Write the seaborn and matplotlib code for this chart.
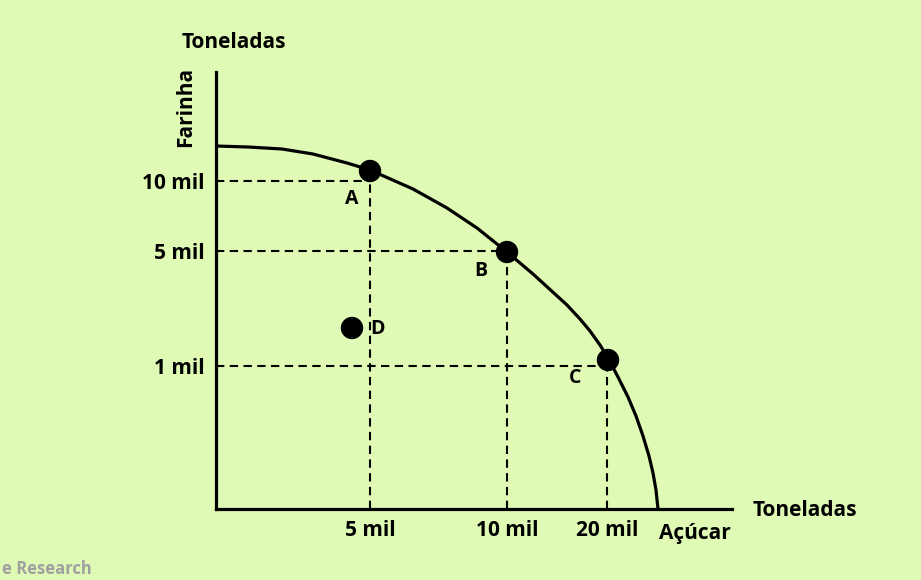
import pandas as pd
import matplotlib.pyplot as plt
import seaborn as sns

# Schematic positions (chart units)
curve_x = [0.0, 3.2, 6.6, 9.7, 13.1, 15.4, 19.7, 23.1, 26.1, 29.1, 31.7,
           35.1, 36.4, 37.4, 38.4, 39.2, 40.2, 41.2, 42.0, 42.7, 43.3, 43.7, 44.0, 44.2]
curve_y = [36.3, 36.2, 36.0, 35.5, 34.6, 33.9, 32.0, 30.1, 28.1, 25.7, 23.5,
           20.4, 19.0, 17.8, 16.4, 15.1, 13.2, 11.2, 9.3, 7.3, 5.3, 3.6, 1.9, 0.0]

point_names = ['A', 'B', 'C', 'D']
point_x = [15.4, 29.1, 39.2, 13.6]
point_y = [33.8, 25.7, 14.9, 18.1]

ytick_pos = [32.8, 25.8, 14.3]
ytick_labels = ['10 mil', '5 mil', '1 mil']
xtick_pos = [15.4, 29.1, 39.1]
xtick_labels = ['5 mil', '10 mil', '20 mil']

bg = '#DFFAB4'
sns.set_style('white', {'axes.facecolor': bg, 'figure.facecolor': bg})
plt.rcParams['font.family'] = ['Open Sans', 'DejaVu Sans']
plt.rcParams['font.weight'] = 'bold'
plt.rcParams['text.color'] = 'black'
plt.rcParams['xtick.color'] = 'black'
plt.rcParams['ytick.color'] = 'black'

fig = plt.figure(figsize=(9.21, 5.80), dpi=100)
W, H = 921, 580
ax = fig.add_axes([216 / W, (H - 509) / H, (732 - 216) / W, (509 - 72) / H])
ax.set_xlim(0, 51.6)
ax.set_ylim(0, 43.7)

curve = pd.DataFrame({'x': curve_x, 'y': curve_y})
sns.lineplot(data=curve, x='x', y='y', sort=False, color='black', lw=2.3,
             solid_joinstyle='round', ax=ax)

# dashed guide lines
dash = dict(color='black', lw=1.5, linestyle=(0, (4, 2.6)), zorder=1)
for xv, yv in zip(xtick_pos, ytick_pos):
    ax.plot([0, xv], [yv, yv], **dash)
    ax.plot([xv, xv], [0, yv], **dash)

pts = pd.DataFrame({'x': point_x, 'y': point_y, 'name': point_names})
sns.scatterplot(data=pts, x='x', y='y', color='black', s=260, edgecolor='none', zorder=3, ax=ax)

offsets = {'A': (-13, -20), 'B': (-19, -14), 'C': (-24, -13), 'D': (18, -1)}
for _, r in pts.iterrows():
    ax.annotate(r['name'], (r['x'], r['y']), xytext=offsets[r['name']], textcoords='offset points',
                ha='center', va='center', fontsize=14, fontweight='bold')

ax.set_xticks(xtick_pos)
ax.set_xticklabels(xtick_labels)
ax.set_yticks(ytick_pos)
ax.set_yticklabels(ytick_labels)
ax.tick_params(length=0, labelsize=15, pad=8)
for lab in ax.get_xticklabels() + ax.get_yticklabels():
    lab.set_fontweight('bold')
ax.set_xlabel('')
ax.set_ylabel('')

for side in ['top', 'right']:
    ax.spines[side].set_visible(False)
for side in ['left', 'bottom']:
    ax.spines[side].set_linewidth(2.3)
    ax.spines[side].set_color('black')

# axis titles
fig.text(234 / W, 1 - 42 / H, 'Toneladas', ha='center', va='center', fontsize=15, fontweight='bold')
fig.text(186 / W, 1 - 107 / H, 'Farinha', ha='center', va='center', rotation=90, fontsize=15, fontweight='bold')
fig.text(805 / W, 1 - 511 / H, 'Toneladas', ha='center', va='center', fontsize=15, fontweight='bold')
fig.text(695 / W, 1 - 534 / H, 'Açúcar', ha='center', va='center', fontsize=15, fontweight='bold')
fig.text(2 / W, 2 / H, 'e Research', ha='left', va='bottom', fontsize=12, fontweight='bold', color='#a0a0a0')

fig.savefig('out.png', dpi=100, facecolor=bg)
